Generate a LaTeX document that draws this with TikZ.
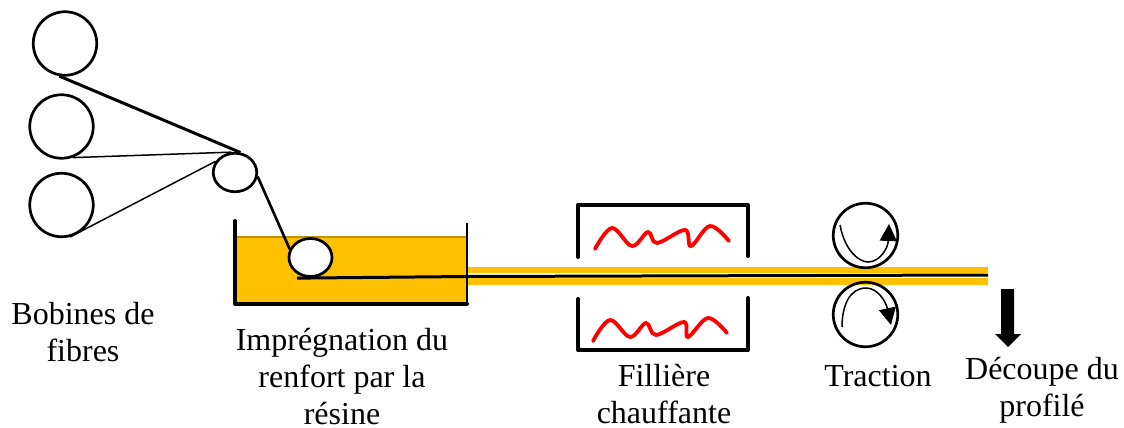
\documentclass[tikz,border=0pt]{standalone}
\usepackage{fontspec}
\setmainfont{Liberation Serif}
\usetikzlibrary{arrows.meta,shapes.geometric}
\definecolor{resin}{HTML}{FFC000}
\definecolor{resinedge}{HTML}{BF9000}
\tikzset{
  x=1pt,y=-1pt,
  spool/.style={draw=black,line width=2.7pt,fill=white,circle,inner sep=0pt,minimum size=63.5pt},
  guide/.style={draw=black,line width=2.7pt,fill=white,ellipse,inner sep=0pt},
  thickfibre/.style={draw=black,line width=3pt},
  thinfibre/.style={draw=black,line width=1.5pt},
  wall/.style={draw=black,line width=4pt,line cap=round,line join=round},
  heater/.style={draw=red,line width=3.8pt,line cap=round},
  rotarrow/.style={draw=black,line width=1.5pt,-{Triangle[length=17pt,width=17pt]}},
  label/.style={align=center,font=\fontsize{32}{37}\selectfont,inner sep=0pt,text=black}
}
\begin{document}
\begin{tikzpicture}
\useasboundingbox (0,0) rectangle (1124,428);
% resin bath
\fill[resin] (235,237) rectangle (467,305);
\draw[resinedge,line width=2.4pt] (235,237) -- (467,237);
% pultruded profile
\fill[resin] (467,267) rectangle (988,273);
\fill[resin] (467,278) rectangle (988,285);
\draw[wall] (235,221) -- (235,303.5) -- (467,303.5);
\draw[draw=black,line width=2.8pt] (467,223) -- (467,304);
% spools
\node[spool] (s1) at (65,43.5) {};
\node[spool] (s2) at (61.5,126.5) {};
\node[spool] (s3) at (61.5,205) {};
\node[guide,minimum width=43.5pt,minimum height=38.5pt] (g) at (235,172.5) {};
\node[guide,minimum width=43pt,minimum height=38pt] (b) at (310.5,257.5) {};
\coordinate (bstart) at (297,278);
\coordinate (bmid) at (310.5,278);
\coordinate (wallpt) at (467,276.5);
\coordinate (profend) at (988,275);
% fibres
\draw[thickfibre] (s1.260) -- (g.75);
\draw[thinfibre] (s2.-70) -- (g.100);
\draw[thinfibre] (s3.285) -- (s3.310) -- (g.150);
\draw[draw=black,line width=2.6pt] (g.-10) -- (b.158);
\draw[draw=black,line width=3pt] (bstart) -- (bmid) -- (wallpt) -- (profend);
% heated die
\draw[wall] (578,257) -- (578,205) -- (748,205) -- (748,256);
\draw[wall] (578,299) -- (578,350) -- (748,350) -- (748,298);
\draw[heater] plot[smooth,tension=0.6] coordinates {(595,249) (612,228) (632,246) (648,232) (657,243) (685,230) (691,246) (710,226) (729,241)};
\draw[heater] plot[smooth,tension=0.6] coordinates {(593,341) (610,320) (630,337) (646,323) (656,335) (684,322) (688,337) (708,318) (727,333)};
% traction rollers
\node[spool,fill=none,minimum size=64.5pt] (t1) at (865.5,235.5) {};
\node[spool,fill=none,minimum size=64.5pt] (t2) at (865.5,314.5) {};
\coordinate (a1s) at (840,225);
\coordinate (a1e) at (889,224);
\coordinate (a2s) at (842,327);
\coordinate (a2e) at (891,325);
\draw[rotarrow] (a1s) .. controls (845,252) and (860,262) .. (868,262) .. controls (880,262) and (888,248) .. (a1e);
\draw[rotarrow] (a2s) .. controls (842,305) and (850,288) .. (866,288) .. controls (878,288) and (886,302) .. (a2e);
% cut arrow
\fill[black] (1001,289) -- (1014,289) -- (1014,334) -- (1021,334) -- (1008,347) -- (995,334) -- (1001,334) -- cycle;
% labels
\node[label] (l1) at (83,332) {Bobines de\\fibres};
\node[label] (l2) at (342,377) {Imprégnation du\\renfort par la\\résine};
\node[label] (l3) at (664,394) {Fillière\\chauffante};
\node[label] (l4) at (878,376) {Traction};
\node[label] (l5) at (1042,390) {Découpe du\\profilé};
\end{tikzpicture}
\end{document}
